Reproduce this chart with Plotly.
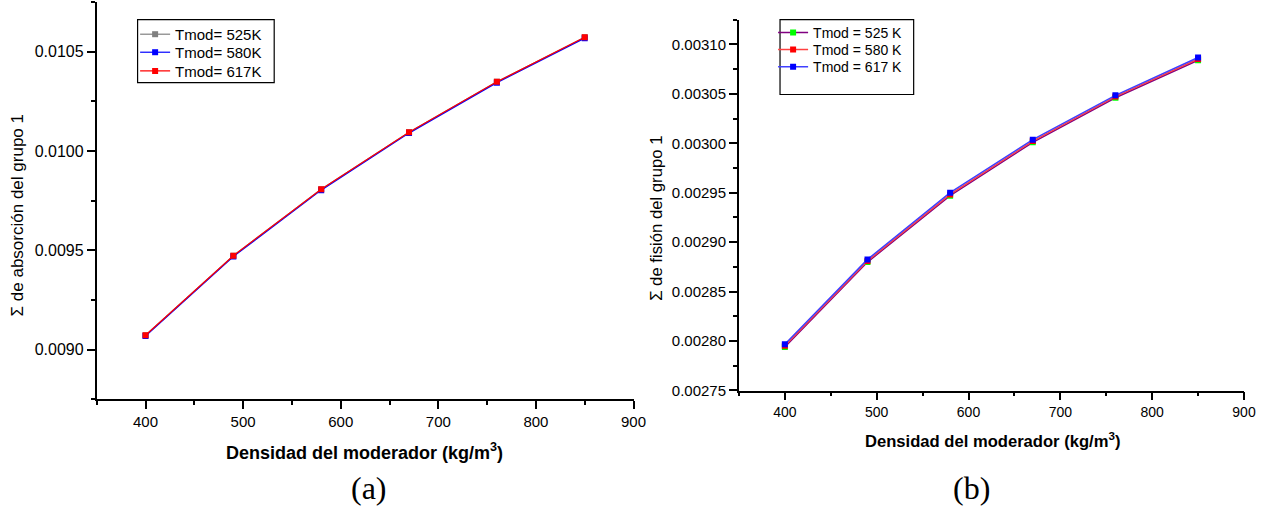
import plotly.graph_objects as go

# ---------------- data ----------------
density = [400, 490, 580, 670, 760, 850]

# panel (a): absorption cross-section, group 1
abs_labels = ["Tmod= 525K", "Tmod= 580K", "Tmod= 617K"]
abs_525 = [0.009073, 0.009473, 0.009807, 0.010094, 0.010348, 0.010572]
abs_580 = [0.009069, 0.009469, 0.009803, 0.010090, 0.010344, 0.010568]
abs_617 = [0.009073, 0.009473, 0.009807, 0.010094, 0.010348, 0.010572]

# panel (b): fission cross-section, group 1
fis_labels = ["Tmod = 525 K", "Tmod = 580 K", "Tmod = 617 K"]
fis_525 = [0.0027940, 0.0028798, 0.0029470, 0.0030010, 0.0030460, 0.0030840]
fis_580 = [0.0027952, 0.0028810, 0.0029482, 0.0030022, 0.0030472, 0.0030852]
fis_617 = [0.0027967, 0.0028825, 0.0029500, 0.0030036, 0.0030485, 0.0030868]

a_x_ticks = [400, 500, 600, 700, 800, 900]
a_y_ticks = [0.0090, 0.0095, 0.0100, 0.0105]
b_y_ticks = [0.00275, 0.00280, 0.00285, 0.00290, 0.00295, 0.00300, 0.00305, 0.00310]

W, H = 1285, 513
FONT = "Liberation Sans, Arial, sans-serif"
SERIF = "Liberation Serif, Times New Roman, serif"


def px_x(p):
    return p / W


def px_y(p):
    return 1 - p / H


fig = go.Figure()

# panel (a) traces, each with its own legend row
a_series = [(abs_525, "#808080", "#808080", abs_labels[0], "legend", 35.0),
            (abs_580, "#0000FF", "#0000FF", abs_labels[1], "legend2", 53.3),
            (abs_617, "#FF0000", "#FF0000", abs_labels[2], "legend3", 72.3)]
for ys, lc, mc, name, lg, _ in a_series:
    fig.add_trace(go.Scatter(x=density, y=ys, mode="lines+markers", name=name,
                             line=dict(color=lc, width=1.2),
                             marker=dict(symbol="square", size=6, color=mc),
                             xaxis="x", yaxis="y", legend=lg))

# panel (b) traces
b_series = [(fis_525, "#800080", "#00FF00", fis_labels[0], "legend4", 33.3),
            (fis_580, "#FF4040", "#FF0000", fis_labels[1], "legend5", 50.7),
            (fis_617, "#4040FF", "#0000FF", fis_labels[2], "legend6", 68.3)]
for ys, lc, mc, name, lg, _ in b_series:
    fig.add_trace(go.Scatter(x=density, y=ys, mode="lines+markers", name=name,
                             line=dict(color=lc, width=1.5),
                             marker=dict(symbol="square", size=6, color=mc),
                             xaxis="x2", yaxis="y2", legend=lg))

axis_common = dict(showline=True, linecolor="black", linewidth=1.8, mirror=False,
                   ticks="outside", ticklen=8, tickwidth=1.5, tickcolor="black",
                   showgrid=False, zeroline=False)
minor_common = dict(ticks="outside", ticklen=4, tickwidth=1.5, tickcolor="black", tick0=0)

fig.update_layout(
    width=W, height=H,
    paper_bgcolor="white", plot_bgcolor="white",
    margin=dict(l=0, r=0, t=0, b=0),
    font=dict(family=FONT, color="black"),
    showlegend=True,
    xaxis=dict(domain=[px_x(97.7), px_x(640)], anchor="y", range=[350, 900.01],
               tickvals=a_x_ticks, tickfont=dict(size=15, family=FONT),
               minor=dict(dtick=50, **minor_common), **axis_common),
    yaxis=dict(domain=[px_y(405.7), px_y(2)], anchor="x", range=[0.00875, 0.01075],
               tickvals=a_y_ticks, tickformat=".4f", tickfont=dict(size=16, family=FONT),
               minor=dict(dtick=0.00025, **minor_common), **axis_common),
    xaxis2=dict(domain=[px_x(746.5), px_x(1256.7)], anchor="y2", range=[350, 900.01],
                tickvals=a_x_ticks, tickfont=dict(size=14, family=FONT),
                minor=dict(dtick=50, **minor_common), **axis_common),
    yaxis2=dict(domain=[px_y(396.7), px_y(20)], anchor="x2", range=[0.0027499, 0.003125],
                tickvals=b_y_ticks, tickformat=".5f", tickfont=dict(size=15, family=FONT),
                minor=dict(dtick=0.000025, **minor_common), **axis_common),
)

# place one legend per row
for _, _, _, _, lg, row in a_series:
    fig.update_layout({lg: dict(x=px_x(136.5), y=px_y(row), xanchor="left", yanchor="middle",
                                bgcolor="rgba(0,0,0,0)", borderwidth=0,
                                font=dict(size=15, family=FONT), itemwidth=30)})
for _, _, _, _, lg, row in b_series:
    fig.update_layout({lg: dict(x=px_x(781), y=px_y(row), xanchor="left", yanchor="middle",
                                bgcolor="rgba(0,0,0,0)", borderwidth=0,
                                font=dict(size=14, family=FONT), itemwidth=30)})

# legend frames
fig.add_shape(type="rect", xref="paper", yref="paper",
              x0=px_x(139), x1=px_x(277), y0=px_y(84), y1=px_y(20),
              line=dict(color="black", width=1.2), fillcolor="rgba(0,0,0,0)", layer="above")
fig.add_shape(type="rect", xref="paper", yref="paper",
              x0=px_x(788), x1=px_x(923), y0=px_y(96), y1=px_y(20),
              line=dict(color="black", width=1.2), fillcolor="rgba(0,0,0,0)", layer="above")

# axis titles and panel labels
ann = [
    dict(text="Σ de absorción del grupo 1", x=px_x(18), y=px_y(219), textangle=-90,
         font=dict(size=17, family=FONT)),
    dict(text="<b>Densidad del moderador (kg/m<sup>3</sup>)</b>", x=px_x(368.7), y=px_y(459),
         font=dict(size=18, family=FONT)),
    dict(text="Σ de fisión del grupo 1", x=px_x(663), y=px_y(222), textangle=-90,
         font=dict(size=16.7, family=FONT)),
    dict(text="<b>Densidad del moderador (kg/m<sup>3</sup>)</b>", x=px_x(1002.5), y=px_y(446.7),
         font=dict(size=16.6, family=FONT)),
    dict(text="(a)", x=px_x(372.5), y=px_y(496), font=dict(size=32, family=SERIF)),
    dict(text="(b)", x=px_x(981), y=px_y(496), font=dict(size=32, family=SERIF)),
]
for a in ann:
    fig.add_annotation(xref="paper", yref="paper", showarrow=False,
                       xanchor="center", yanchor="middle", **a)

fig.write_html("out.html",
               config={"displayModeBar": False},
               post_script="document.documentElement.style.margin='0';"
                           "document.body.style.margin='0';"
                           "document.body.style.overflow='hidden';"
                           "document.documentElement.style.overflow='hidden';")
